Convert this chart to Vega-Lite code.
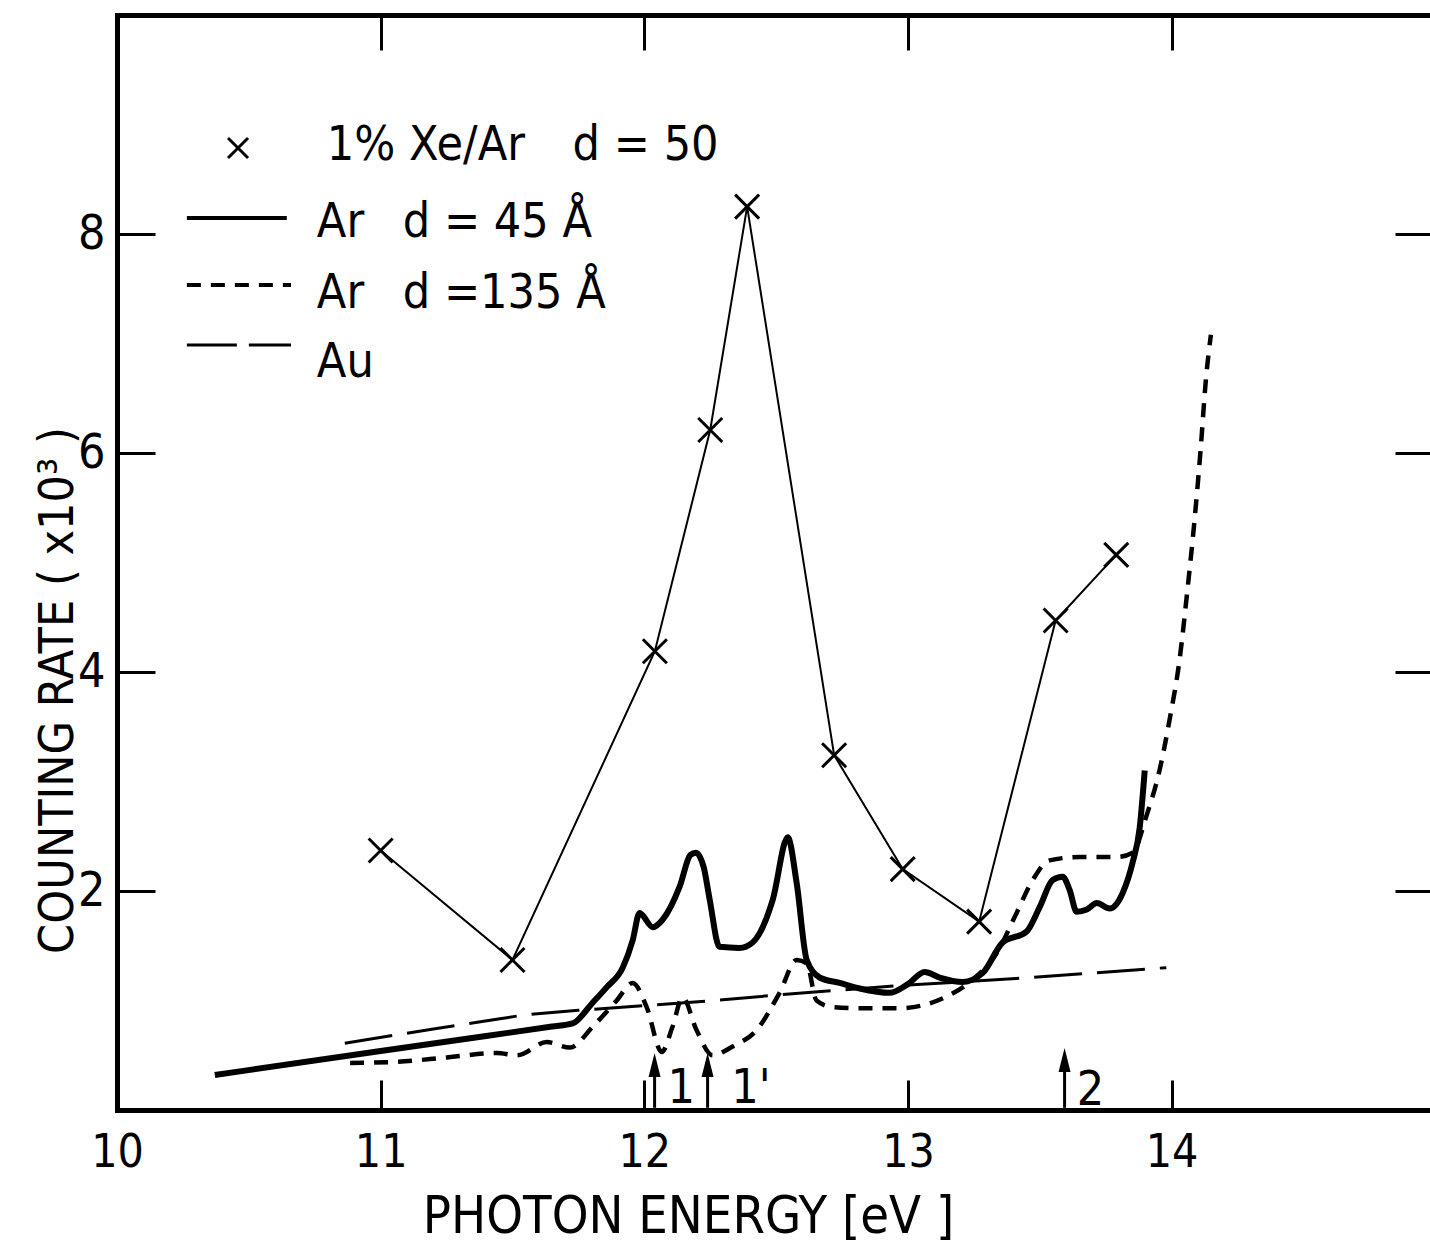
{
  "$schema": "https://vega.github.io/schema/vega-lite/v6.json",
  "width": 1313,
  "height": 1095,
  "autosize": {"type": "none"},
  "padding": {"left": 117, "top": 15, "right": 0, "bottom": 139},
  "background": "white",
  "config": {
    "view": {"stroke": null},
    "font": "DejaVu Sans Condensed, DejaVu Sans, sans-serif",
    "axis": {
      "domainColor": "black", "tickColor": "black", "labelColor": "black", "titleColor": "black",
      "grid": false, "domainCap": "square",
      "labelFont": "DejaVu Sans Condensed, DejaVu Sans, sans-serif",
      "titleFont": "DejaVu Sans Condensed, DejaVu Sans, sans-serif",
      "titleFontWeight": "normal"
    }
  },
  "datasets": {
    "ar45": [
      {"x": 10.371, "y": 0.32}, {"x": 11.0, "y": 0.538}, {"x": 11.4, "y": 0.676}, {"x": 11.65, "y": 0.762},
      {"x": 11.728, "y": 0.79}, {"x": 11.804, "y": 0.98}, {"x": 11.857, "y": 1.12}, {"x": 11.918, "y": 1.30},
      {"x": 11.956, "y": 1.55}, {"x": 11.982, "y": 1.80}, {"x": 12.032, "y": 1.67}, {"x": 12.070, "y": 1.74},
      {"x": 12.134, "y": 2.04}, {"x": 12.175, "y": 2.33}, {"x": 12.195, "y": 2.35}, {"x": 12.225, "y": 2.22}, {"x": 12.248, "y": 1.92},
      {"x": 12.285, "y": 1.49}, {"x": 12.361, "y": 1.48}, {"x": 12.411, "y": 1.53}, {"x": 12.487, "y": 1.92},
      {"x": 12.544, "y": 2.49}, {"x": 12.578, "y": 2.07}, {"x": 12.616, "y": 1.37}, {"x": 12.665, "y": 1.21},
      {"x": 12.741, "y": 1.16}, {"x": 12.817, "y": 1.11}, {"x": 12.93, "y": 1.07}, {"x": 13.0, "y": 1.15},
      {"x": 13.063, "y": 1.26}, {"x": 13.12, "y": 1.21}, {"x": 13.208, "y": 1.17}, {"x": 13.283, "y": 1.25},
      {"x": 13.359, "y": 1.53}, {"x": 13.45, "y": 1.63}, {"x": 13.499, "y": 1.85}, {"x": 13.549, "y": 2.10},
      {"x": 13.587, "y": 2.13}, {"x": 13.613, "y": 2.01}, {"x": 13.640, "y": 1.81}, {"x": 13.678, "y": 1.83},
      {"x": 13.716, "y": 1.89}, {"x": 13.765, "y": 1.84}, {"x": 13.814, "y": 1.98}, {"x": 13.852, "y": 2.26},
      {"x": 13.879, "y": 2.58}, {"x": 13.898, "y": 3.10}
    ],
    "ar135": [
      {"x": 10.884, "y": 0.43}, {"x": 11.062, "y": 0.44}, {"x": 11.251, "y": 0.48}, {"x": 11.441, "y": 0.52},
      {"x": 11.517, "y": 0.50}, {"x": 11.630, "y": 0.62}, {"x": 11.718, "y": 0.57}, {"x": 11.804, "y": 0.76},
      {"x": 11.895, "y": 1.00}, {"x": 11.956, "y": 1.16}, {"x": 12.009, "y": 0.94}, {"x": 12.066, "y": 0.53},
      {"x": 12.107, "y": 0.76}, {"x": 12.145, "y": 1.03}, {"x": 12.198, "y": 0.73}, {"x": 12.259, "y": 0.50},
      {"x": 12.335, "y": 0.58}, {"x": 12.426, "y": 0.73}, {"x": 12.513, "y": 1.07}, {"x": 12.578, "y": 1.37},
      {"x": 12.616, "y": 1.34}, {"x": 12.653, "y": 1.00}, {"x": 12.714, "y": 0.94}, {"x": 12.817, "y": 0.93},
      {"x": 12.968, "y": 0.93}, {"x": 13.158, "y": 1.05}, {"x": 13.245, "y": 1.19}, {"x": 13.336, "y": 1.43},
      {"x": 13.412, "y": 1.80}, {"x": 13.473, "y": 2.10}, {"x": 13.537, "y": 2.28}, {"x": 13.651, "y": 2.31},
      {"x": 13.792, "y": 2.31}, {"x": 13.852, "y": 2.35}, {"x": 13.905, "y": 2.69}, {"x": 13.954, "y": 3.10},
      {"x": 13.992, "y": 3.56}, {"x": 14.03, "y": 4.11}, {"x": 14.06, "y": 4.75}, {"x": 14.087, "y": 5.39},
      {"x": 14.11, "y": 6.03}, {"x": 14.13, "y": 6.67}, {"x": 14.149, "y": 7.08}
    ],
    "au": [
      {"x": 10.864, "y": 0.61}, {"x": 11.2, "y": 0.74}, {"x": 11.55, "y": 0.87}, {"x": 11.75, "y": 0.91},
      {"x": 12.27, "y": 1.0}, {"x": 12.55, "y": 1.06}, {"x": 12.99, "y": 1.14}, {"x": 13.41, "y": 1.20},
      {"x": 13.98, "y": 1.30}
    ],
    "xe": [
      {"x": 11.0, "y": 2.37}, {"x": 11.5, "y": 1.37}, {"x": 12.04, "y": 4.19}, {"x": 12.25, "y": 6.21},
      {"x": 12.39, "y": 8.25}, {"x": 12.72, "y": 3.24}, {"x": 12.98, "y": 2.20}, {"x": 13.27, "y": 1.72},
      {"x": 13.56, "y": 4.47}, {"x": 13.79, "y": 5.07}
    ],
    "legSolid": [{"x": 10.265, "x2": 10.644, "y": 8.146}],
    "legDash": [{"x": 10.265, "x2": 10.66, "y": 7.534}],
    "legLong": [{"x": 10.265, "x2": 10.66, "y": 6.986}],
    "legCross": [{"x": 10.459, "y": 8.785}],
    "legText": [
      {"x": 10.796, "y": 8.68, "t": "1% Xe/Ar"}, {"x": 11.728, "y": 8.68, "t": "d = 50"},
      {"x": 10.758, "y": 7.97, "t": "Ar"}, {"x": 11.084, "y": 7.97, "t": "d = 45 Å"},
      {"x": 10.758, "y": 7.32, "t": "Ar"}, {"x": 11.084, "y": 7.32, "t": "d =135 Å"},
      {"x": 10.758, "y": 6.69, "t": "Au"}
    ],
    "arrows": [
      {"x": 12.039, "y": 0.02, "y2": 0.42},
      {"x": 12.240, "y": 0.02, "y2": 0.42},
      {"x": 13.594, "y": 0.02, "y2": 0.47}
    ],
    "heads": [
      {"x": 12.039, "y": 0.41}, {"x": 12.240, "y": 0.41}, {"x": 13.594, "y": 0.457}
    ],
    "arrowText": [
      {"x": 12.088, "y": 0.064, "t": "1"}, {"x": 12.33, "y": 0.064, "t": "1'"}, {"x": 13.64, "y": 0.05, "t": "2"}
    ]
  },
  "encoding": {
    "x": {"field": "x", "type": "quantitative", "scale": {"domain": [10, 14.98], "nice": false, "zero": false}, "axis": null},
    "y": {"field": "y", "type": "quantitative", "scale": {"domain": [0, 10], "nice": false, "zero": false}, "axis": null}
  },
  "resolve": {"axis": {"x": "independent", "y": "independent"}},
  "layer": [
    {
      "data": {"name": "au"},
      "mark": {"type": "line", "color": "black", "strokeWidth": 3, "strokeDash": [48, 15]},
      "encoding": {
        "x": {"field": "x", "type": "quantitative", "scale": {"domain": [10, 14.98], "nice": false, "zero": false},
          "axis": {"orient": "bottom", "values": [10, 11, 12, 13, 14], "format": "d", "domainWidth": 5,
            "tickSize": -30, "tickWidth": 3, "labelPadding": 50, "labelFontSize": 46, "labelFlush": false,
            "title": "PHOTON  ENERGY [eV ]", "titleFontSize": 52, "titleX": 571, "titleY": 122,
            "titleBaseline": "alphabetic", "titleAlign": "center", "titleAnchor": null}},
        "y": {"field": "y", "type": "quantitative", "scale": {"domain": [0, 10], "nice": false, "zero": false},
          "axis": {"orient": "left", "values": [2, 4, 6, 8], "format": "d", "domainWidth": 5,
            "tickSize": -38, "tickWidth": 3, "labelPadding": 50, "labelFontSize": 48,
            "title": "COUNTING RATE ( x10³ )", "titleFontSize": 48, "titleX": -45, "titleY": 675,
            "titleAngle": -90, "titleBaseline": "alphabetic", "titleAlign": "center"}}
      }
    },
    {
      "data": {"name": "ar135"},
      "mark": {"type": "line", "color": "black", "strokeWidth": 4.5, "strokeDash": [14, 10], "interpolate": "monotone"},
      "encoding": {
        "x": {"field": "x", "type": "quantitative", "scale": {"domain": [10, 14.98], "nice": false, "zero": false},
          "axis": {"orient": "top", "values": [11, 12, 13, 14], "domainWidth": 5, "tickSize": -35, "tickWidth": 3,
            "labels": false, "title": null}},
        "y": {"field": "y", "type": "quantitative", "scale": {"domain": [0, 10], "nice": false, "zero": false},
          "axis": {"orient": "right", "values": [2, 4, 6, 8], "domain": false, "tickSize": -35, "tickWidth": 3,
            "labels": false, "title": null}}
      }
    },
    {
      "data": {"name": "ar45"},
      "mark": {"type": "line", "color": "black", "strokeWidth": 6, "interpolate": "monotone"}
    },
    {
      "data": {"name": "xe"},
      "mark": {"type": "line", "color": "black", "strokeWidth": 2}
    },
    {
      "data": {"name": "xe"},
      "mark": {"type": "point", "shape": "M-1,-1L1,1M-1,1L1,-1", "size": 576, "filled": false, "color": "black", "strokeWidth": 3, "opacity": 1}
    },
    {
      "data": {"name": "legSolid"},
      "mark": {"type": "rule", "color": "black", "strokeWidth": 4},
      "encoding": {"x2": {"field": "x2"}}
    },
    {
      "data": {"name": "legDash"},
      "mark": {"type": "rule", "color": "black", "strokeWidth": 4, "strokeDash": [14, 10]},
      "encoding": {"x2": {"field": "x2"}}
    },
    {
      "data": {"name": "legLong"},
      "mark": {"type": "rule", "color": "black", "strokeWidth": 3, "strokeDash": [50, 12]},
      "encoding": {"x2": {"field": "x2"}}
    },
    {
      "data": {"name": "legCross"},
      "mark": {"type": "point", "shape": "M-1,-1L1,1M-1,1L1,-1", "size": 400, "filled": false, "color": "black", "strokeWidth": 3, "opacity": 1}
    },
    {
      "data": {"name": "legText"},
      "mark": {"type": "text", "align": "left", "baseline": "alphabetic", "fontSize": 48, "color": "black"},
      "encoding": {"text": {"field": "t"}}
    },
    {
      "data": {"name": "arrows"},
      "mark": {"type": "rule", "color": "black", "strokeWidth": 3},
      "encoding": {"y2": {"field": "y2"}}
    },
    {
      "data": {"name": "heads"},
      "mark": {"type": "point", "shape": "M0,-1L0.5,1L-0.5,1Z", "size": 576, "filled": true, "color": "black", "opacity": 1, "strokeWidth": 0}
    },
    {
      "data": {"name": "arrowText"},
      "mark": {"type": "text", "align": "left", "baseline": "alphabetic", "fontSize": 48, "color": "black"},
      "encoding": {"text": {"field": "t"}}
    }
  ]
}
